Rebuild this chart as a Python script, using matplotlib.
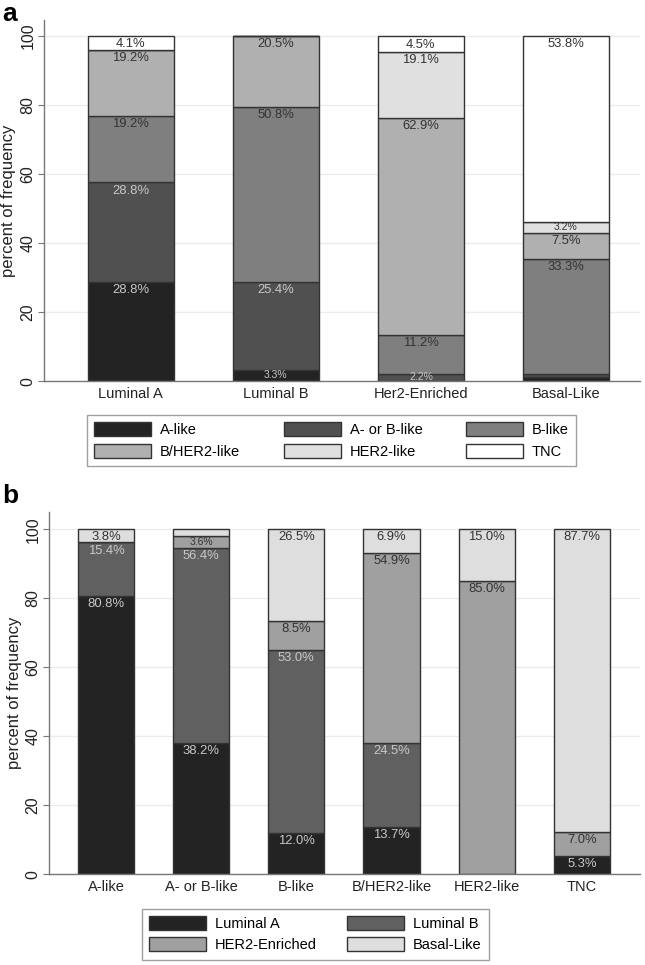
import matplotlib.pyplot as plt
import numpy as np

plt.rcParams['font.family'] = ['Liberation Sans', 'DejaVu Sans']

# ---- panel a: intrinsic subtype -> IHC class ----
subtypes = ['Luminal A', 'Luminal B', 'Her2-Enriched', 'Basal-Like']
ihc_names = ['A-like', 'A- or B-like', 'B-like', 'B/HER2-like', 'HER2-like', 'TNC']
a_like = [28.8, 3.3, 0.0, 1.1]
ab_like = [28.8, 25.4, 2.2, 1.1]
b_like = [19.2, 50.8, 11.2, 33.3]
bher2_like = [19.2, 20.5, 62.9, 7.5]
her2_like = [0.0, 0.0, 19.1, 3.2]
tnc = [4.1, 0.0, 4.5, 53.8]
colors_a = ['#232323', '#505050', '#7f7f7f', '#b0b0b0', '#e0e0e0', '#ffffff']

# ---- panel b: IHC class -> intrinsic subtype ----
classes = ['A-like', 'A- or B-like', 'B-like', 'B/HER2-like', 'HER2-like', 'TNC']
sub_names = ['Luminal A', 'Luminal B', 'HER2-Enriched', 'Basal-Like']
lum_a = [80.8, 38.2, 12.0, 13.7, 0.0, 5.3]
lum_b = [15.4, 56.4, 53.0, 24.5, 0.0, 0.0]
her2_enr = [0.0, 3.6, 8.5, 54.9, 85.0, 7.0]
basal = [3.8, 1.8, 26.5, 6.9, 15.0, 87.7]
colors_b = ['#232323', '#606060', '#a0a0a0', '#dedede']


def stacked(ax, cats, series, names, colors, light_n, width):
    x = np.arange(len(cats))
    bottom = np.zeros(len(cats))
    for i, (vals, name, col) in enumerate(zip(series, names, colors)):
        vals = np.array(vals)
        ax.bar(x, vals, width, bottom=bottom, color=col, edgecolor='#333333',
               linewidth=1, label=name, zorder=2)
        tcol = '#c8c8c8' if i < light_n else '#333333'
        for xi, v, b in zip(x, vals, bottom):
            if v < 2:
                continue
            if v < 3.7:
                ax.text(xi, b + v / 2, f'{v:.1f}%', ha='center', va='center',
                        fontsize=7.5, color=tcol, zorder=3)
            else:
                ax.text(xi, b + v - 0.6, f'{v:.1f}%', ha='center', va='top',
                        fontsize=9.4, color=tcol, zorder=3)
        bottom = bottom + vals
    ax.set_xticks(x)
    ax.set_xticklabels(cats, fontsize=10.5, color='#222222')
    ax.set_yticks([0, 20, 40, 60, 80, 100])
    ax.set_yticklabels(['0', '20', '40', '60', '80', '100'], fontsize=11.5,
                       color='#222222', rotation=90, va='center')
    ax.tick_params(axis='x', length=0, pad=4)
    ax.tick_params(axis='y', length=4, color='#777777', pad=2)
    ax.set_ylabel('percent of frequency', fontsize=12, color='#222222', labelpad=3)
    ax.yaxis.grid(True, color='#ececec', linewidth=1)
    ax.set_axisbelow(True)
    for s in ['top', 'right']:
        ax.spines[s].set_visible(False)
    for s in ['left', 'bottom']:
        ax.spines[s].set_color('#777777')
        ax.spines[s].set_linewidth(1)


fig = plt.figure(figsize=(6.45, 9.65), dpi=100)

ax_a = fig.add_axes([0.068, 0.605, 0.924, 0.374])
stacked(ax_a, subtypes, [a_like, ab_like, b_like, bher2_like, her2_like, tnc],
        ihc_names, colors_a, 2, 0.59)
ax_a.set_xlim(-0.6, 3.51)
ax_a.set_ylim(0, 104.6)

ax_b = fig.add_axes([0.076, 0.094, 0.916, 0.3757])
stacked(ax_b, classes, [lum_a, lum_b, her2_enr, basal], sub_names, colors_b, 2, 0.59)
ax_b.set_xlim(-0.6, 5.61)
ax_b.set_ylim(0, 105.1)

# legends (row-wise order like the original)
h, l = ax_a.get_legend_handles_labels()
order = [0, 3, 1, 4, 2, 5]
leg_a = fig.legend([h[i] for i in order], [l[i] for i in order], ncol=3,
                   loc='center', bbox_to_anchor=(0.514, 0.5435), fontsize=10.5,
                   frameon=True, fancybox=False, edgecolor='#888888',
                   handlelength=3.9, handleheight=1.1, handletextpad=0.6,
                   columnspacing=3.0, labelspacing=0.45, borderpad=0.5)
leg_a.get_frame().set_linewidth(1)

h, l = ax_b.get_legend_handles_labels()
order = [0, 2, 1, 3]
leg_b = fig.legend([h[i] for i in order], [l[i] for i in order], ncol=2,
                   loc='center', bbox_to_anchor=(0.489, 0.032), fontsize=10.5,
                   frameon=True, fancybox=False, edgecolor='#888888',
                   handlelength=3.9, handleheight=1.1, handletextpad=0.6,
                   columnspacing=2.1, labelspacing=0.45, borderpad=0.5)
leg_b.get_frame().set_linewidth(1)

fig.text(0.004, 0.998, 'a', fontsize=19, fontweight='bold', ha='left', va='top')
fig.text(0.004, 0.498, 'b', fontsize=19, fontweight='bold', ha='left', va='top')

fig.savefig('out.png', dpi=100)
